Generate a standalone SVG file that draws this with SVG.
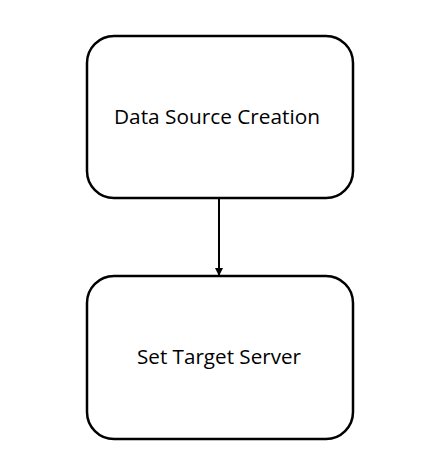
<svg xmlns="http://www.w3.org/2000/svg" width="437" height="472" viewBox="0 0 437 472">
<style>
.box{fill:#fff;stroke:#000;stroke-width:2.5}
.lbl{font-family:"Open Sans","Liberation Sans",sans-serif;font-size:20px;fill:#000;text-anchor:middle}
.conn{stroke:#000;stroke-width:2;fill:none}
</style>
<defs>
<marker id="arr" markerWidth="8" markerHeight="8" refX="7" refY="4" orient="auto" markerUnits="userSpaceOnUse">
<path d="M0,0 L8,4 L0,8 Z" fill="#000"/>
</marker>
</defs>
<rect width="437" height="472" fill="#fff"/>
<g id="connectors">
<line class="conn" x1="219" y1="198" x2="219" y2="275" marker-end="url(#arr)"/>
</g>
<g id="node1">
<rect class="box" x="87" y="36" width="266" height="162" rx="27" ry="27"/>
<text class="lbl" x="217" y="124" textLength="206" lengthAdjust="spacingAndGlyphs">Data Source Creation</text>
</g>
<g id="node2">
<rect class="box" x="87" y="276" width="266" height="163" rx="27" ry="27"/>
<text class="lbl" x="219" y="364" textLength="164" lengthAdjust="spacingAndGlyphs">Set Target Server</text>
</g>
</svg>
